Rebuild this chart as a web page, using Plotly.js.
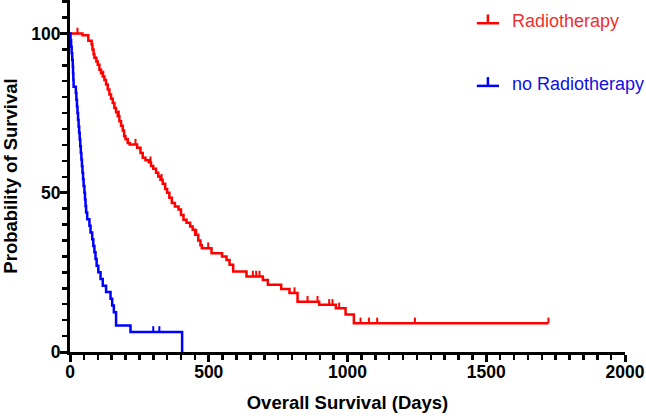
<!DOCTYPE html>
<html>
<head>
<meta charset="utf-8">
<script src="https://cdn.plot.ly/plotly-3.0.1.min.js"></script>
<style>
  html, body { margin: 0; padding: 0; background: #ffffff; }
  #chart { width: 646px; height: 416px; }
</style>
</head>
<body>
<div id="chart"></div>
<script>
// ---- Data ----
const seriesNames = ['Radiotherapy', 'no Radiotherapy'];

// Radiotherapy: Kaplan-Meier step points (days, % surviving after the step)
const redTimes = [0,45,66,78,81,85,88,95,100,106,112,118,124,130,136,142,148,154,160,166,172,178,184,190,195,200,208,215,242,254,262,272,284,292,300,310,318,326,334,343,350,358,367,378,391,400,409,420,433,442,451,462,470,475,510,548,564,575,588,636,695,713,761,791,820,898,958,993,1023,1724];
const redSurv  = [100,99.4,97.7,96.5,95.0,93.5,92.4,91.2,90.2,88.6,87.5,86.5,85.4,84.0,82.4,80.8,79.5,78.2,76.6,75.3,74.0,72.4,71.0,69.5,67.7,66.8,65.6,65.1,64.1,62.5,61.0,60.2,59.6,58.4,57.5,56.3,55.1,54.1,52.8,51.2,50.0,48.4,46.8,45.7,44.7,43.0,41.5,40.6,39.4,38.4,36.8,35.0,33.5,32.6,31.0,30.0,28.9,27.4,25.3,23.7,22.6,21.1,19.8,18.5,15.8,14.8,13.7,11.8,9.0,9.0];
const redCensored = [27,120,176,236,290,330,455,498,659,671,683,809,856,892,934,946,970,1047,1077,1107,1243,1724];

// no Radiotherapy
const blueTimes = [0,2,4,6,8,10,11,12,13,21,23,25,27,29,31,33,35,37,39,41,43,45,47,49,52,54,56,58,62,70,74,80,84,88,92,96,102,110,118,130,146,152,158,166,218,404];
const blueSurv  = [100,97.9,95.8,93.8,91.7,89.6,87.5,85.4,83.3,81.3,79.2,77.1,75,72.9,70.8,68.8,66.7,64.6,62.5,60.4,58.3,56.3,54.2,52.1,50,47.9,45.8,43.8,41.7,39.6,37.5,35.4,33.3,31.3,29.2,27.1,25,22.9,20.8,18.8,16.7,14.6,12.5,8.3,6.3,0];
const blueCensored = [300,322];

const xTickVals = [0,500,1000,1500,2000];
const yTickVals = [0,50,100];

// ---- Styling ----
const RED = '#ff0000';
const BLUE = '#0000ff';
const FONT = 'Liberation Sans, Arial, Helvetica, sans-serif';
const TICK_H = 1.8; // censor tick height in % units

function survAt(times, surv, t) {
  let s = surv[0];
  for (let i = 0; i < times.length; i++) { if (times[i] <= t) s = surv[i]; }
  return s;
}
function censorSegments(times, surv, cens) {
  const xs = [], ys = [];
  cens.forEach(t => {
    const s = survAt(times, surv, t);
    xs.push(t, t, null); ys.push(s, s + TICK_H, null);
  });
  return {xs, ys};
}

const rc = censorSegments(redTimes, redSurv, redCensored);
const bc = censorSegments(blueTimes, blueSurv, blueCensored);

const traces = [
  {x: redTimes, y: redSurv, mode: 'lines', line: {color: RED, width: 2.5, shape: 'hv'}, name: seriesNames[0], showlegend: false, hoverinfo: 'skip'},
  {x: rc.xs, y: rc.ys, mode: 'lines', line: {color: RED, width: 2}, showlegend: false, hoverinfo: 'skip', connectgaps: false},
  {x: blueTimes, y: blueSurv, mode: 'lines', line: {color: BLUE, width: 2.5, shape: 'hv'}, name: seriesNames[1], showlegend: false, hoverinfo: 'skip'},
  {x: bc.xs, y: bc.ys, mode: 'lines', line: {color: BLUE, width: 2}, showlegend: false, hoverinfo: 'skip', connectgaps: false}
];

const axisCommon = {
  showline: true, linewidth: 3, linecolor: '#000',
  ticks: 'outside', ticklen: 7, tickwidth: 3, tickcolor: '#000',
  showgrid: false, zeroline: false,
  tickfont: {family: FONT, size: 17.5, color: '#000', weight: 'bold'},
  fixedrange: true
};

// manual legend
const legendItems = [
  {name: seriesNames[0], color: RED, text: '#ee3030', y: 0.934, ty: 0.94},
  {name: seriesNames[1], color: BLUE, text: '#1010e0', y: 0.756, ty: 0.762}
];
const shapes = [];
const annotations = [];
legendItems.forEach(it => {
  shapes.push({type: 'line', xref: 'paper', yref: 'paper', x0: 0.733, x1: 0.773, y0: it.y, y1: it.y, line: {color: it.color, width: 2.5}});
  shapes.push({type: 'line', xref: 'paper', yref: 'paper', x0: 0.753, x1: 0.753, y0: it.y, y1: it.y + 0.025, line: {color: it.color, width: 2.5}});
  annotations.push({xref: 'paper', yref: 'paper', x: 0.792, y: it.ty, xanchor: 'left', yanchor: 'middle', text: it.name, showarrow: false, font: {family: FONT, size: 18, color: it.text}});
});

const layout = {
  width: 646, height: 416,
  margin: {l: 70, r: 21, t: 0, b: 64, pad: 0},
  paper_bgcolor: '#fff', plot_bgcolor: '#fff',
  showlegend: false,
  xaxis: Object.assign({}, axisCommon, {
    range: [0, 2000], tickvals: xTickVals, ticktext: xTickVals.map(String),
    ticklabelstandoff: -5,
    minor: {dtick: 50, tick0: 0, ticks: 'outside', ticklen: 5, tickwidth: 2.5, tickcolor: '#000', showgrid: false},
    title: {text: 'Overall Survival (Days)', font: {family: FONT, size: 18.5, color: '#000', weight: 'bold'}, standoff: 16}
  }),
  yaxis: Object.assign({}, axisCommon, {
    range: [0, 110.5], tickvals: yTickVals, ticktext: yTickVals.map(String),
    ticklabelstandoff: -4,
    minor: {dtick: 5, tick0: 0, ticks: 'outside', ticklen: 5, tickwidth: 2.5, tickcolor: '#000', showgrid: false},
    title: {text: 'Probability of Survival', font: {family: FONT, size: 18.5, color: '#000', weight: 'bold'}, standoff: 12}
  }),
  shapes: shapes,
  annotations: annotations
};

Plotly.newPlot('chart', traces, layout, {displayModeBar: false, staticPlot: true});
</script>
</body>
</html>
